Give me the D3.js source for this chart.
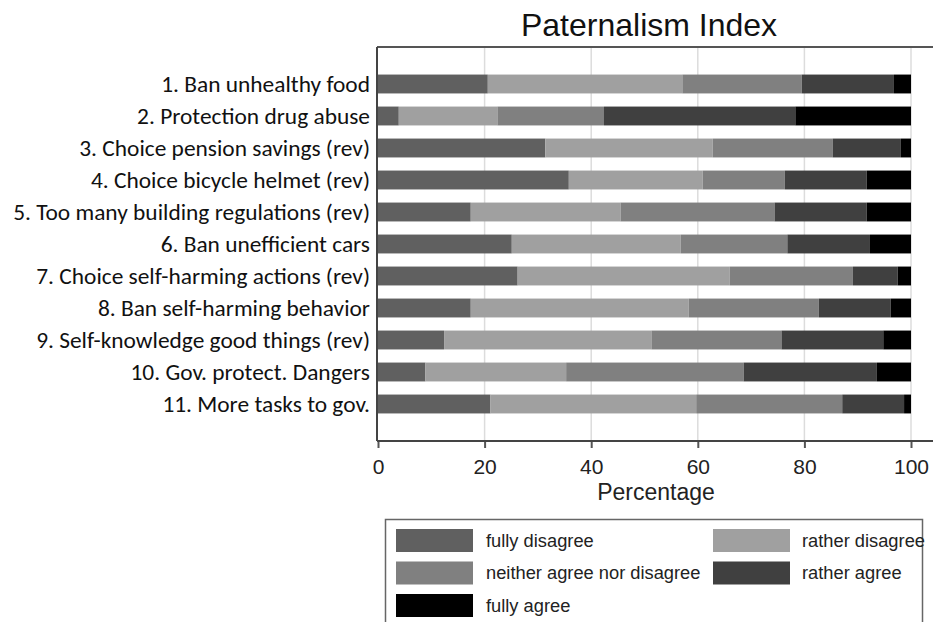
<!DOCTYPE html>
<html>
<head>
<meta charset="utf-8">
<script src="https://cdn.jsdelivr.net/npm/d3@7"></script>
<style>
  html, body { margin: 0; padding: 0; background: #fff; }
  svg { display: block; }
</style>
</head>
<body>
<svg id="chart" width="933" height="622"></svg>
<script>
const items = [
  "1. Ban unhealthy food",
  "2. Protection drug abuse",
  "3. Choice pension savings (rev)",
  "4. Choice bicycle helmet (rev)",
  "5. Too many building regulations (rev)",
  "6. Ban unefficient cars",
  "7. Choice self-harming actions (rev)",
  "8. Ban self-harming behavior",
  "9. Self-knowledge good things (rev)",
  "10. Gov. protect. Dangers",
  "11. More tasks to gov."
];
const responses = ["fully disagree", "rather disagree", "neither agree nor disagree", "rather agree", "fully agree"];
const fullyDisagree   = [20.6,  3.9, 31.4, 35.8, 17.4, 25.1, 26.2, 17.4, 12.4,  8.9, 21.1];
const ratherDisagree  = [36.5, 18.5, 31.4, 25.1, 28.1, 31.7, 39.8, 40.9, 38.9, 26.4, 38.6];
const neither         = [22.4, 20.0, 22.5, 15.4, 28.9, 20.0, 23.1, 24.4, 24.4, 33.3, 27.4];
const ratherAgree     = [17.3, 35.9, 12.8, 15.4, 17.3, 15.5,  8.4, 13.5, 19.1, 25.0, 11.6];
const fullyAgree      = [ 3.2, 21.7,  1.9,  8.3,  8.3,  7.7,  2.5,  3.8,  5.2,  6.4,  1.3];
const xTicks = [0, 20, 40, 60, 80, 100];
const colors = ["#606060", "#a0a0a0", "#808080", "#404040", "#000000"];
const title = "Paternalism Index";
const xTitle = "Percentage";

const svg = d3.select("#chart");
const frame = {left: 377, top: 47, right: 945, bottom: 441};

const x = d3.scaleLinear().domain([0, 100]).range([378, 911]);
const y = d3.scaleBand().domain(items).range([68, 420]).paddingInner(0.41).paddingOuter(0.205);

const rows = items.map((name, i) => ({
  name,
  [responses[0]]: fullyDisagree[i],
  [responses[1]]: ratherDisagree[i],
  [responses[2]]: neither[i],
  [responses[3]]: ratherAgree[i],
  [responses[4]]: fullyAgree[i]
}));
const stack = d3.stack().keys(responses)(rows);
const color = d3.scaleOrdinal().domain(responses).range(colors);

// title
svg.append("text")
  .attr("x", 649).attr("y", 36)
  .attr("text-anchor", "middle")
  .attr("font-family", "'Liberation Sans', Arial, sans-serif")
  .attr("font-size", 32)
  .attr("fill", "#111")
  .text(title);

// gridlines
svg.append("g").selectAll("line")
  .data(xTicks.filter(d => d > 0))
  .join("line")
  .attr("x1", d => x(d)).attr("x2", d => x(d))
  .attr("y1", frame.top).attr("y2", frame.bottom)
  .attr("stroke", "#dcdcdc").attr("stroke-width", 1.5);

// bars
svg.append("g").selectAll("g")
  .data(stack)
  .join("g")
  .attr("fill", d => color(d.key))
  .selectAll("rect")
  .data(d => d)
  .join("rect")
  .attr("x", d => x(d[0]))
  .attr("width", d => x(d[1]) - x(d[0]))
  .attr("y", d => y(d.data.name))
  .attr("height", y.bandwidth());

// frame: top, left
svg.append("line").attr("x1", frame.left).attr("x2", frame.right)
  .attr("y1", frame.top).attr("y2", frame.top)
  .attr("stroke", "#555").attr("stroke-width", 2);
svg.append("line").attr("x1", frame.left).attr("x2", frame.left)
  .attr("y1", frame.top).attr("y2", frame.bottom)
  .attr("stroke", "#444").attr("stroke-width", 2);

// x axis
const xAxis = svg.append("g")
  .attr("transform", `translate(0,${frame.bottom})`)
  .call(d3.axisBottom(x).tickValues(xTicks).tickSize(7).tickPadding(11).tickSizeOuter(0));
xAxis.select(".domain").remove();
xAxis.append("line").attr("x1", frame.left).attr("x2", frame.right)
  .attr("y1", 0).attr("y2", 0).attr("stroke", "#444").attr("stroke-width", 2);
xAxis.selectAll(".tick line").attr("stroke", "#555").attr("stroke-width", 2);
xAxis.selectAll(".tick text")
  .attr("font-family", "'Liberation Sans', Arial, sans-serif")
  .attr("font-size", 21)
  .attr("fill", "#222");

svg.append("text")
  .attr("x", 656).attr("y", 500)
  .attr("text-anchor", "middle")
  .attr("font-family", "'Liberation Sans', Arial, sans-serif")
  .attr("font-size", 23)
  .attr("fill", "#222")
  .text(xTitle);

// y labels
svg.append("g").selectAll("text")
  .data(items)
  .join("text")
  .attr("x", 370)
  .attr("y", d => y(d) + y.bandwidth() / 2)
  .attr("dy", "0.35em")
  .attr("text-anchor", "end")
  .attr("font-family", "Carlito, Lato, 'Open Sans', sans-serif")
  .attr("font-size", 23.4)
  .attr("fill", "#111")
  .text(d => d);

// legend
const lg = svg.append("g");
lg.append("rect")
  .attr("x", 385.5).attr("y", 519.5).attr("width", 537).attr("height", 120)
  .attr("fill", "none").attr("stroke", "#666").attr("stroke-width", 1.5);
const legendPos = [
  {sx: 396, tx: 486, row: 0},
  {sx: 713, tx: 802, row: 0},
  {sx: 396, tx: 486, row: 1},
  {sx: 713, tx: 802, row: 1},
  {sx: 396, tx: 486, row: 2}
];
const items2 = lg.selectAll("g.li")
  .data(responses)
  .join("g").attr("class", "li");
items2.append("rect")
  .attr("x", (d, i) => legendPos[i].sx)
  .attr("y", (d, i) => 529 + legendPos[i].row * 32.5)
  .attr("width", 77).attr("height", 23)
  .attr("fill", d => color(d));
items2.append("text")
  .attr("x", (d, i) => legendPos[i].tx)
  .attr("y", (d, i) => 540.5 + legendPos[i].row * 32.5)
  .attr("dy", "0.35em")
  .attr("font-family", "'Liberation Sans', Arial, sans-serif")
  .attr("font-size", 18.3)
  .attr("fill", "#222")
  .text(d => d);
</script>
</body>
</html>
